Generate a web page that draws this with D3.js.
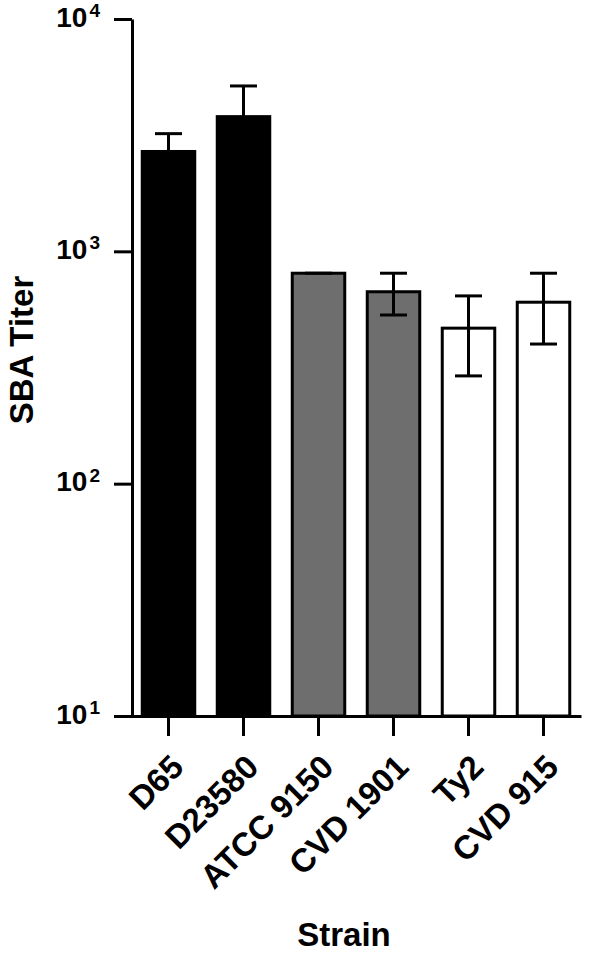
<!DOCTYPE html>
<html>
<head>
<meta charset="utf-8">
<script src="https://cdn.jsdelivr.net/npm/d3@7"></script>
<style>
  body { margin: 0; background: #fff; }
  text { font-family: "Liberation Sans", Arial, sans-serif; font-weight: bold; fill: #000; }
</style>
</head>
<body>
<div id="chart"></div>
<script>
// data
var strains = ["D65", "D23580", "ATCC 9150", "CVD 1901", "Ty2", "CVD 915"];
var groups = ["NTS", "NTS", "Paratyphi A", "Paratyphi A", "Typhi", "Typhi"];
var titers = [2690, 3800, 805, 670, 467, 604];
var errLow = [2250, 2800, 805, 532, 291, 399];
var errHigh = [3210, 5150, 805, 805, 643, 805];
var yTicks = [10, 100, 1000, 10000];

var width = 600, height = 956;

var svg = d3.select("#chart")
  .append("svg")
  .attr("width", width)
  .attr("height", height);

// scales
var x = d3.scaleBand()
  .domain(strains)
  .range([131, 581])
  .paddingInner(0.3)
  .paddingOuter(0.15);

var y = d3.scaleLog()
  .domain([10, 10000])
  .range([716, 19]);

var color = d3.scaleOrdinal()
  .domain(["NTS", "Paratyphi A", "Typhi"])
  .range(["#000000", "#6e6e6e", "#ffffff"]);

var data = strains.map(function (s, i) {
  return { strain: s, group: groups[i], value: titers[i], lo: errLow[i], hi: errHigh[i] };
});

// bars
svg.append("g")
  .selectAll("rect")
  .data(data)
  .enter()
  .append("rect")
  .attr("x", function (d) { return x(d.strain); })
  .attr("width", x.bandwidth())
  .attr("y", function (d) { return y(d.value); })
  .attr("height", function (d) { return y(10) - y(d.value); })
  .attr("fill", function (d) { return color(d.group); })
  .attr("stroke", "#000")
  .attr("stroke-width", 3);

// error bars
var capW = 27;
var eb = svg.append("g")
  .attr("stroke", "#000")
  .attr("stroke-width", 3)
  .selectAll("g")
  .data(data)
  .enter()
  .append("g");

eb.append("line")
  .attr("x1", function (d) { return x(d.strain) + x.bandwidth() / 2; })
  .attr("x2", function (d) { return x(d.strain) + x.bandwidth() / 2; })
  .attr("y1", function (d) { return y(d.lo); })
  .attr("y2", function (d) { return y(d.hi); });

eb.append("line")
  .attr("x1", function (d) { return x(d.strain) + x.bandwidth() / 2 - capW / 2; })
  .attr("x2", function (d) { return x(d.strain) + x.bandwidth() / 2 + capW / 2; })
  .attr("y1", function (d) { return y(d.hi); })
  .attr("y2", function (d) { return y(d.hi); });

eb.filter(function (d) { return d.lo < d.value; })
  .append("line")
  .attr("x1", function (d) { return x(d.strain) + x.bandwidth() / 2 - capW / 2; })
  .attr("x2", function (d) { return x(d.strain) + x.bandwidth() / 2 + capW / 2; })
  .attr("y1", function (d) { return y(d.lo); })
  .attr("y2", function (d) { return y(d.lo); });

// Y axis
var yAxis = svg.append("g")
  .attr("transform", "translate(132,0)")
  .call(d3.axisLeft(y).tickValues(yTicks).tickSize(18).tickSizeOuter(0).tickFormat(""));

yAxis.selectAll("path, line").attr("stroke", "#000").attr("stroke-width", 3);

// tick labels as 10 with superscript exponent
var yl = yAxis.selectAll(".tick")
  .append("text")
  .attr("x", -32)
  .attr("dy", "0.25em")
  .attr("text-anchor", "end")
  .style("font-size", "28px");
yl.append("tspan").text("10");
yl.append("tspan")
  .attr("dx", 2)
  .attr("dy", "-0.5em")
  .style("font-size", "19px")
  .text(function (d) { return Math.round(Math.log10(d)); });

// X axis
var xAxis = svg.append("g")
  .attr("transform", "translate(0,716)")
  .call(d3.axisBottom(x).tickSize(20).tickSizeOuter(0));

xAxis.selectAll("path, line").attr("stroke", "#000").attr("stroke-width", 3);
xAxis.selectAll("text")
  .attr("fill", "#000")
  .style("font-size", "33px")
  .style("font-family", "'Liberation Sans', Arial, sans-serif")
  .style("font-weight", "bold")
  .attr("text-anchor", "end")
  .attr("y", 0)
  .attr("dy", 0)
  .attr("transform", "translate(17,53) rotate(-45)");

// axis titles
svg.append("text")
  .attr("x", 344)
  .attr("y", 946)
  .attr("text-anchor", "middle")
  .style("font-size", "33px")
  .text("Strain");

svg.append("text")
  .attr("transform", "translate(33,350) rotate(-90)")
  .attr("text-anchor", "middle")
  .style("font-size", "33px")
  .text("SBA Titer");
</script>
</body>
</html>
